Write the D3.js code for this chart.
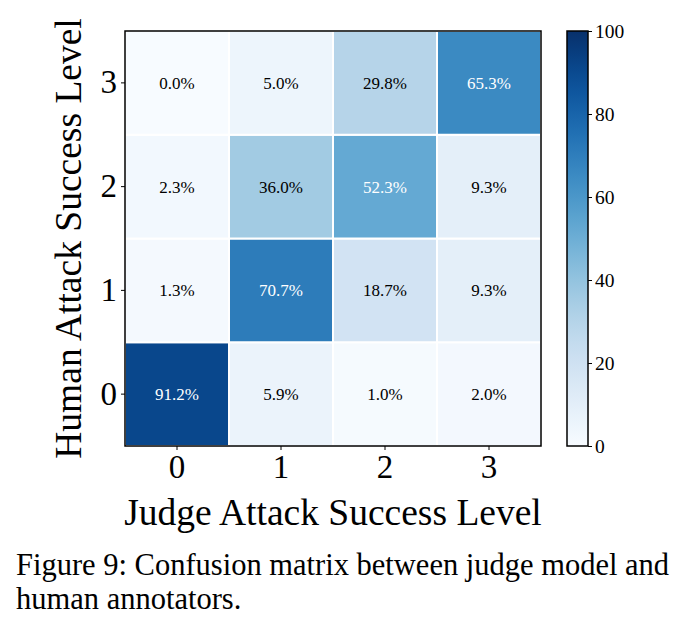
<!DOCTYPE html>
<html>
<head>
<meta charset="utf-8">
<script src="https://cdn.jsdelivr.net/npm/d3@7"></script>
<style>
  body { margin: 0; background: #fff; }
  text { font-family: "Liberation Serif", "Times New Roman", serif; }
</style>
</head>
<body>
<div id="chart"></div>
<script>
// rows = human level (top to bottom 3..0), cols = judge level 0..3
const levels = [0, 1, 2, 3]
const row3 = [0.0, 5.0, 29.8, 65.3]
const row2 = [2.3, 36.0, 52.3, 9.3]
const row1 = [1.3, 70.7, 18.7, 9.3]
const row0 = [91.2, 5.9, 1.0, 2.0]
const rows = { 3: row3, 2: row2, 1: row1, 0: row0 }
const cbarTicks = [0, 20, 40, 60, 80, 100]

const width = 686
const height = 634

const svg = d3.select("#chart")
  .append("svg")
  .attr("width", width)
  .attr("height", height)

const pLeft = 125, pTop = 31, pRight = 541, pBottom = 446

const x = d3.scaleBand().domain(levels).range([pLeft, pRight])
const y = d3.scaleBand().domain([3, 2, 1, 0]).range([pTop, pBottom])
const color = d3.scaleSequential(d3.interpolateBlues).domain([0, 100])

let cells = []
levels.forEach(h => {
  rows[h].forEach((v, j) => cells.push({ h: h, j: j, v: v }))
})

const g = svg.append("g")

g.selectAll("rect.cell")
  .data(cells)
  .join("rect")
  .attr("class", "cell")
  .attr("x", d => x(d.j))
  .attr("y", d => y(d.h))
  .attr("width", x.bandwidth())
  .attr("height", y.bandwidth())
  .attr("fill", d => color(d.v))
  .attr("stroke", "#fff")
  .attr("stroke-width", 2)

g.selectAll("text.val")
  .data(cells)
  .join("text")
  .attr("class", "val")
  .attr("x", d => x(d.j) + x.bandwidth() / 2)
  .attr("y", d => y(d.h) + y.bandwidth() / 2)
  .attr("dy", "0.35em")
  .attr("text-anchor", "middle")
  .attr("font-size", 17)
  .attr("fill", d => d.v > 50 ? "#fff" : "#000")
  .text(d => d.v.toFixed(1) + "%")

// frame
g.append("rect")
  .attr("x", pLeft).attr("y", pTop)
  .attr("width", pRight - pLeft).attr("height", pBottom - pTop)
  .attr("fill", "none").attr("stroke", "#000").attr("stroke-width", 1.5)

// axes
const xAxis = svg.append("g")
  .attr("transform", `translate(0,${pBottom})`)
  .call(d3.axisBottom(x).tickSize(4).tickPadding(5))
xAxis.select(".domain").remove()
xAxis.selectAll("text").attr("font-size", 33).attr("font-family", "Liberation Serif")

const yAxis = svg.append("g")
  .attr("transform", `translate(${pLeft},0)`)
  .call(d3.axisLeft(y).tickSize(4).tickPadding(4))
yAxis.select(".domain").remove()
yAxis.selectAll("text").attr("font-size", 33).attr("font-family", "Liberation Serif")

svg.append("text")
  .attr("x", (pLeft + pRight) / 2)
  .attr("y", 525)
  .attr("text-anchor", "middle")
  .attr("font-size", 37.5)
  .text("Judge Attack Success Level")

svg.append("text")
  .attr("transform", `translate(81,${(pTop + pBottom) / 2}) rotate(-90)`)
  .attr("text-anchor", "middle")
  .attr("font-size", 37.5)
  .text("Human Attack Success Level")

// colorbar
const cbX = 567, cbW = 21
const cbScale = d3.scaleLinear().domain([0, 100]).range([pBottom, pTop])
const defs = svg.append("defs")
const grad = defs.append("linearGradient")
  .attr("id", "cbgrad")
  .attr("x1", 0).attr("y1", 1).attr("x2", 0).attr("y2", 0)
d3.range(0, 101, 5).forEach(t => {
  grad.append("stop").attr("offset", t / 100).attr("stop-color", color(t))
})
svg.append("rect")
  .attr("x", cbX).attr("y", pTop)
  .attr("width", cbW).attr("height", pBottom - pTop)
  .attr("fill", "url(#cbgrad)")
  .attr("stroke", "#000").attr("stroke-width", 1.5)

const cbAxis = svg.append("g")
  .attr("transform", `translate(${cbX + cbW},0)`)
  .call(d3.axisRight(cbScale).tickValues(cbarTicks).tickSize(4).tickPadding(3))
cbAxis.select(".domain").remove()
cbAxis.selectAll("text").attr("font-size", 19.5).attr("font-family", "Liberation Serif")

// caption
const caption = ["Figure 9: Confusion matrix between judge model and", "human annotators."]
svg.selectAll("text.cap")
  .data(caption)
  .join("text")
  .attr("class", "cap")
  .attr("x", 16)
  .attr("y", (d, i) => 575 + i * 34)
  .attr("font-size", 30.5)
  .text(d => d)
</script>
</body>
</html>
